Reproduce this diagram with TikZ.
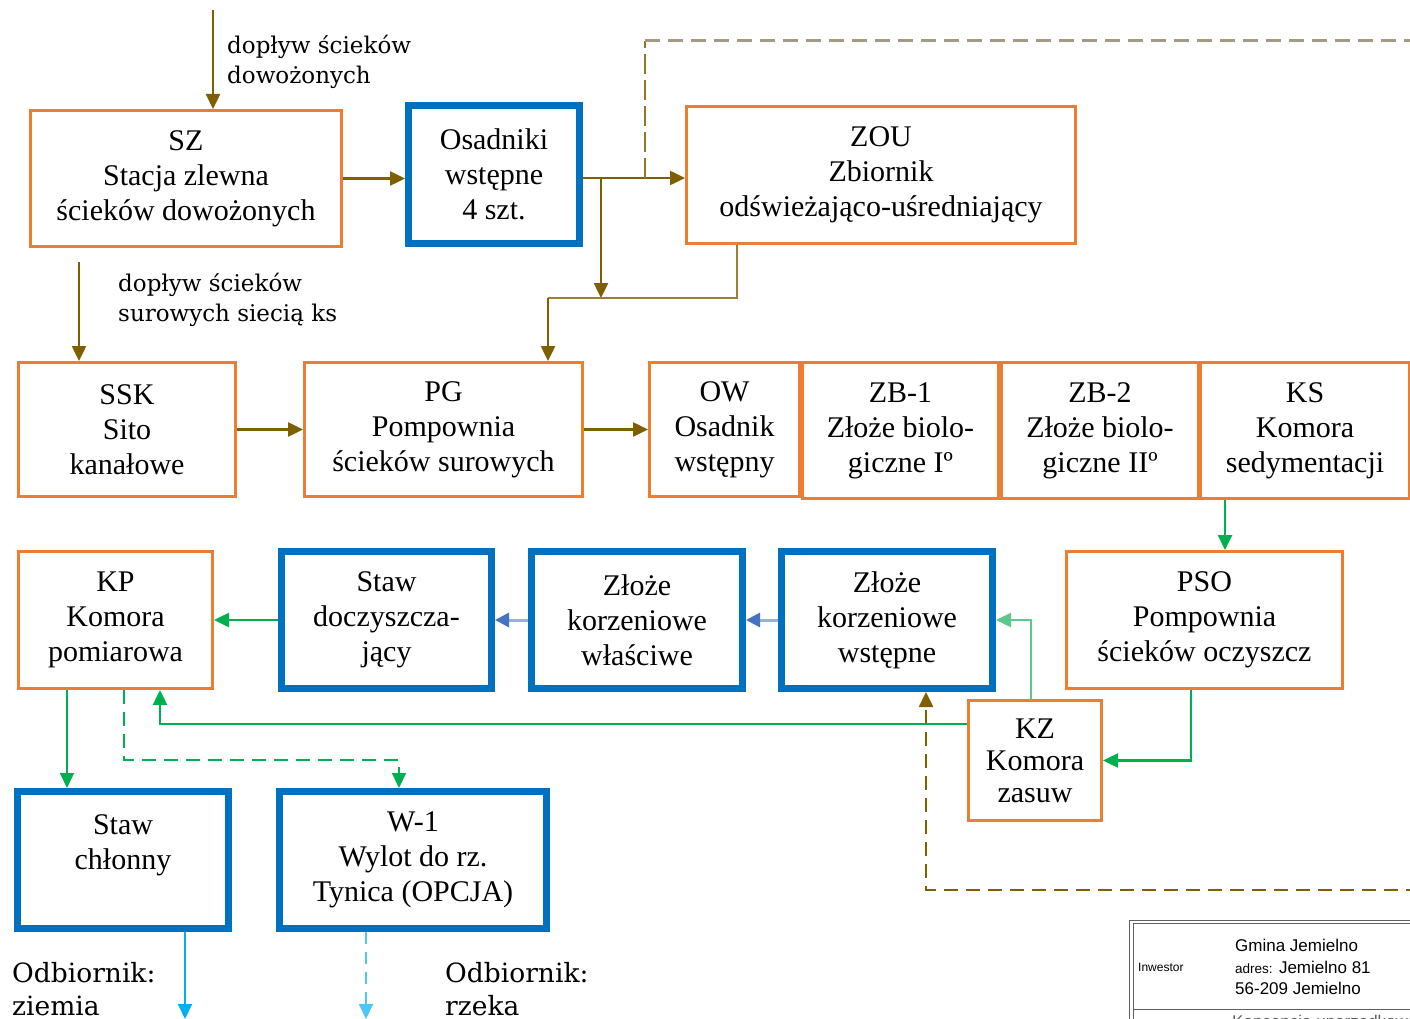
\documentclass[tikz,border=0pt]{standalone}
\usepackage{fontspec}
\setmainfont{Liberation Serif}
\newfontfamily\lblfont{DejaVu Serif}
\newfontfamily\tbfont{Liberation Sans}
\usetikzlibrary{arrows.meta}
\definecolor{org}{HTML}{ED7D31}
\definecolor{blu}{HTML}{0070C0}
\definecolor{brn}{HTML}{7F6000}
\definecolor{grn}{HTML}{00B050}
\definecolor{lgrn}{HTML}{5CC98A}
\definecolor{lblu}{HTML}{00B0F0}
\definecolor{pblu}{HTML}{4472C4}
\definecolor{tanc}{HTML}{A39A82}
\definecolor{tbgray}{HTML}{606060}
\begin{document}
\begin{tikzpicture}[x=1pt,y=-1pt,
  box/.style={draw=org, line width=3pt, fill=white, inner sep=0pt, align=center,
    font=\fontsize{30}{35}\selectfont},
  bbox/.style={box, draw=blu, line width=7pt},
  arrtip/.style={-{Triangle[length=15pt,width=14pt]}},
  brarr/.style={draw=brn, line width=2.5pt, arrtip},
  brline/.style={draw=brn, line width=2pt},
  grarr/.style={draw=grn, line width=2.5pt, arrtip},
  blarr/.style={draw=pblu!55, line width=3pt, -{Triangle[length=14pt,width=14pt,color=pblu]}},
  lbarr/.style={draw=lblu, line width=2pt, arrtip},
  lbl/.style={inner sep=0pt, align=left, font=\lblfont\fontsize{23}{30}\selectfont},
  lblbig/.style={inner sep=0pt, align=left, font=\lblfont\fontsize{26.5}{33}\selectfont},
  tbtxt/.style={inner sep=0pt, anchor=base west, font=\tbfont\fontsize{17}{20}\selectfont}
]
\useasboundingbox (0,0) rectangle (1410,1019);
\clip (0,0) rectangle (1410,1019);
\fill[white] (0,0) rectangle (1410,1019);

% ---- boxes ----
\node[box, minimum width=311pt, minimum height=136pt] (SZ) at (186,178.5) {SZ\\Stacja zlewna\\ścieków dowożonych};
\node[bbox, minimum width=171pt, minimum height=138pt] (OS) at (494,174.5) {Osadniki\\wstępne\\4 szt.};
\node[box, minimum width=389pt, minimum height=137pt] (ZOU) at (881,175) {ZOU\\Zbiornik\\odświeżająco-uśredniający};

\node[box, minimum width=217pt, minimum height=134pt] (SSK) at (127,429.5) {SSK\\Sito\\kanałowe};
\node[box, minimum width=278pt, minimum height=134pt] (PG) at (443.5,429.5) {PG\\Pompownia\\ścieków surowych};
\node[box, minimum width=150pt, minimum height=134pt] (OW) at (724.5,429.5) {OW\\Osadnik\\wstępny};
\node[box, minimum width=196pt, minimum height=136pt] (ZB1) at (900.5,430.5) {ZB-1\\Złoże biolo-\\giczne Iº};
\node[box, minimum width=197pt, minimum height=136pt] (ZB2) at (1100,430.5) {ZB-2\\Złoże biolo-\\giczne IIº};
\node[box, minimum width=209pt, minimum height=136pt] (KS) at (1305,430.5) {KS\\Komora\\sedymentacji};

\node[box, minimum width=194pt, minimum height=137pt] (KP) at (115.5,620) {KP\\Komora\\pomiarowa};
\node[bbox, minimum width=210pt, minimum height=137pt] (SD) at (386.5,620) {Staw\\doczyszcza-\\jący};
\node[bbox, minimum width=211pt, minimum height=137pt] (ZKL) at (637,620) {Złoże\\korzeniowe\\właściwe};
\node[bbox, minimum width=211pt, minimum height=137pt] (ZKW) at (887,620) {Złoże\\korzeniowe\\wstępne};
\node[box, minimum width=276pt, minimum height=137pt] (PSO) at (1204.5,620) {PSO\\Pompownia\\ścieków oczyszcz};
\node[box, minimum width=133pt, minimum height=120pt, font=\fontsize{30}{32}\selectfont] (KZ) at (1035,760.5) {KZ\\Komora\\zasuw};

\node[bbox, minimum width=211pt, minimum height=137pt] (SC) at (123,860) {Staw\\chłonny\\\mbox{}};
\node[bbox, minimum width=267pt, minimum height=137pt] (W1) at (413,860) {W-1\\Wylot do rz.\\Tynica (OPCJA)};

% ---- helper coordinates ----
\coordinate (c213) at (213,10);
\coordinate (c79) at (79,262);
\coordinate (j1) at (601,178);
\coordinate (j2) at (645,178);
\coordinate (d1) at (645,41);
\coordinate (d2) at (1420,41);
\coordinate (j3) at (601,298);
\coordinate (x737) at (737,0);
\coordinate (j4) at (548,298);
\coordinate (x1225) at (1225,0);
\coordinate (x1191) at (1191,0);
\coordinate (x1031) at (1031,0);
\coordinate (y724) at (0,724);
\coordinate (x160) at (160,0);
\coordinate (x67) at (67,0);
\coordinate (x124) at (124,0);
\coordinate (g1) at (124,760);
\coordinate (x399) at (399,0);
\coordinate (b1) at (1420,890);
\coordinate (x926) at (926,0);
\coordinate (x185) at (185,0);
\coordinate (o1) at (185,1019);
\coordinate (x366) at (366,0);
\coordinate (o2) at (366,1019);

% ---- brown connectors ----
\draw[brarr] (c213) -- (c213 |- SZ.north);
\draw[brarr] (SZ.east) -- (SZ.east -| OS.west);
\draw[brarr] (OS.east |- j1) -- (j1 -| ZOU.west);
\draw[brarr] (j1) -- (j3);
\draw[brline, draw=brn!80] (ZOU.south -| x737) |- (j4);
\draw[brarr] (j4) -- (j4 |- PG.north);
\draw[brarr] (c79) -- (c79 |- SSK.north);
\draw[brarr] (SSK.east) -- (PG.west);
\draw[brarr] (PG.east) -- (OW.west);
\draw[draw=brn!85, line width=2pt, dash pattern=on 20pt off 6pt] (j2) -- (d1);
\draw[draw=tanc, line width=3pt, dash pattern=on 15pt off 8pt] (d1) -- (d2);
\draw[draw=brn, line width=2.5pt, dash pattern=on 14pt off 8pt, arrtip] (b1) -| (x926 |- ZKW.south);

% ---- green connectors ----
\draw[grarr] (KS.south -| x1225) -- (x1225 |- PSO.north);
\draw[grarr] (PSO.south -| x1191) |- (KZ.east);
\draw[grarr, draw=lgrn] (KZ.north -| x1031) |- (ZKW.east);
\draw[grarr] (KZ.west |- y724) -| (x160 |- KP.south);
\draw[grarr] (SD.west) -- (KP.east);
\draw[grarr, line width=2pt] (x67 |- KP.south) -- (x67 |- SC.north);
\draw[grarr, line width=2pt, dash pattern=on 14pt off 8pt] (x124 |- KP.south) -- (g1) -| (x399 |- W1.north);

% ---- blue connectors ----
\draw[blarr] (ZKW.west) -- (ZKL.east);
\draw[blarr] (ZKL.west) -- (SD.east);
\draw[lbarr] (x185 |- SC.south) -- (o1);
\draw[lbarr, draw=lblu!70, dash pattern=on 12pt off 8pt] (x366 |- W1.south) -- (o2);

% ---- labels ----
\node[lbl, anchor=north west] (L1) at (227,35) {dopływ ścieków\\dowożonych};
\node[lbl, anchor=north west] (L2) at (118,273) {dopływ ścieków\\surowych siecią ks};
\node[lblbig, anchor=north west] (L3) at (12,962) {Odbiornik:\\ziemia};
\node[lblbig, anchor=north west] (L4) at (445,962) {Odbiornik:\\rzeka};

% ---- title block ----
\draw[tbgray, line width=1pt] (1129,920) rectangle (1420,1040);
\draw[tbgray, line width=1pt] (1133,923) rectangle (1420,1040);
\draw[tbgray, line width=1pt] (1133,1009) -- (1420,1009);
\node[tbtxt, font=\tbfont\fontsize{12}{14}\selectfont] (T0) at (1138,971) {Inwestor};
\node[tbtxt] (T1) at (1235,951) {Gmina Jemielno};
\node[tbtxt] (T2) at (1235,973) {{\fontsize{13.5}{15}\selectfont adres:} Jemielno 81};
\node[tbtxt] (T3) at (1235,994) {56-209 Jemielno};
\node[tbtxt, text=tbgray] (T4) at (1232,1027) {Koncepcja uporządkowania};
\end{tikzpicture}
\end{document}
